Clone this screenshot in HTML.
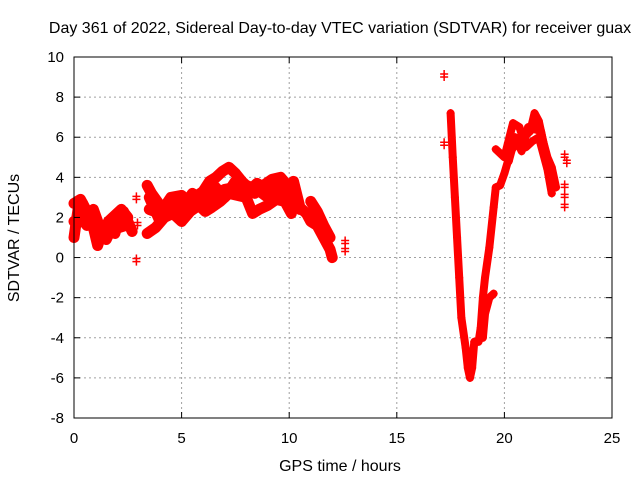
<!DOCTYPE html>
<html><head><meta charset="utf-8"><style>
body{margin:0;background:#fff}
svg{display:block;font-family:"Liberation Sans",sans-serif}
</style></head><body>
<svg id="chart" width="640" height="480" xmlns="http://www.w3.org/2000/svg">
<rect width="640" height="480" fill="#fff"/>
<text x="340" y="33" font-size="16" text-anchor="middle">Day 361 of 2022, Sidereal Day-to-day VTEC variation (SDTVAR) for receiver guax</text>
<text x="340" y="471" font-size="16" text-anchor="middle">GPS time / hours</text>
<text transform="translate(19,238) rotate(-90)" font-size="16" text-anchor="middle">SDTVAR / TECUs</text>
<g id="grid"></g>
<g id="marks"></g>
<g id="axes"></g>
</svg>
<script>
const xTicks=[0,5,10,15,20,25];
const yTicks=[-8,-6,-4,-2,0,2,4,6,8,10];
const trackEarlyLow=[[0,1.0],[0.2,2.5],[0.4,2.7],[0.6,2.2],[0.9,1.5],[1.1,0.6],[1.3,1.3],[1.6,1.5],[1.9,1.2],[2.1,2.0],[2.3,2.3],[2.5,1.8],[2.7,1.3]];
const trackEarlyHigh=[[0,2.7],[0.3,2.9],[0.5,2.5],[0.8,2.0],[1.0,1.7],[1.3,1.0],[1.6,1.8],[1.9,2.1],[2.2,2.4],[2.5,2.0]];
const trackEarlyFill=[[0,1.8],[0.3,2.0],[0.6,1.6],[0.9,2.4],[1.2,1.5],[1.5,0.9],[1.8,1.6],[2.1,1.5],[2.4,1.6]];
const trackMidUpper=[[3.4,3.6],[3.6,3.2],[4.0,2.6],[4.4,2.4],[4.8,2.5],[5.2,2.8],[5.6,3.0],[6.0,3.3],[6.3,3.8],[6.6,4.0],[6.9,4.3],[7.2,4.5],[7.5,4.2],[7.8,3.8],[8.1,3.5],[8.4,3.2],[8.8,3.6],[9.2,3.9],[9.6,4.0],[10.0,3.5],[10.2,3.0],[10.5,2.4]];
const trackMidLower=[[3.4,1.2],[3.8,1.5],[4.2,2.0],[4.6,2.2],[5.0,1.8],[5.4,2.3],[5.8,2.6],[6.1,2.3],[6.4,2.5],[6.8,2.8],[7.2,3.2],[7.6,3.1],[8.0,3.0],[8.3,2.2],[8.6,2.4],[9.0,2.6],[9.4,2.9],[9.8,2.8],[10.1,2.2]];
const trackMidCenter=[[3.5,2.4],[4.0,2.2],[4.5,3.0],[5.0,3.1],[5.5,2.6],[6.0,2.5],[6.5,3.1],[7.0,3.4],[7.5,3.5],[8.0,3.6],[8.5,3.4],[9.0,3.0],[9.5,3.3],[10.0,3.0]];
const trackMidFill=[[3.5,3.0],[4.0,1.8],[4.5,2.7],[5.0,2.4],[5.5,3.2],[6.0,2.9],[6.5,3.6],[7.0,3.0],[7.5,3.8],[8.0,3.2],[8.5,3.7],[9.0,3.4],[9.5,3.6]];
const trackDescA=[[10.2,3.8],[10.5,2.5],[10.8,2.2],[11.0,1.8],[11.3,1.6],[11.6,1.0],[11.9,0.4],[12.0,0.0]];
const trackDescB=[[11.0,2.8],[11.3,2.3],[11.6,1.6],[11.9,1.0]];
const trackLateMain=[[17.5,7.2],[17.6,5.0],[17.7,3.0],[17.8,1.0],[17.9,-1.0],[18.0,-3.0],[18.2,-4.5],[18.3,-5.5],[18.4,-6.0],[18.5,-5.5],[18.6,-4.2],[18.8,-4.2],[18.9,-3.5],[19.0,-2.0],[19.1,-1.0],[19.3,0.5],[19.5,2.5],[19.6,3.5],[19.8,3.6],[20.0,4.2],[20.3,5.3],[20.6,5.8],[20.9,6.0],[21.2,6.3],[21.4,7.2],[21.6,6.8],[21.8,5.8],[22.0,5.0],[22.2,4.5],[22.4,3.5]];
const trackLateSecond=[[19.0,-4.0],[19.1,-2.8],[19.3,-2.0],[19.5,-1.8]];
const trackLateThird=[[19.6,5.4],[20.0,5.0],[20.4,6.7],[20.7,6.5],[21.0,5.5],[21.3,5.8],[21.6,6.0],[22.0,4.4],[22.2,3.2]];
const trackLateFill=[[20.2,4.8],[20.5,6.0],[20.8,5.3],[21.1,6.5],[21.4,6.4],[21.7,6.3],[21.9,5.3],[22.1,4.0]];
const clusterPoints=[[2.9,-0.2],[2.9,2.9],[2.95,1.6],[12.6,0.7],[12.6,0.3],[17.2,9.0],[17.2,5.6],[22.8,5.0],[22.9,4.7],[22.8,3.5],[22.8,3.0],[22.8,2.5]];
const thickTracks=[trackEarlyLow,trackEarlyHigh,trackEarlyFill,trackMidUpper,trackMidLower,trackMidCenter,trackMidFill,trackDescA,trackDescB];
const thinTracks=[trackLateMain,trackLateSecond,trackLateThird,trackLateFill];

const X0=74,X1=612,Y0=418,Y1=57;
const sx=v=>X0+(v-0)/(25-0)*(X1-X0);
const sy=v=>Y0-(v-(-8))/(10-(-8))*(Y0-Y1);
const NS="http://www.w3.org/2000/svg";
const grid=document.getElementById('grid'),marks=document.getElementById('marks'),axes=document.getElementById('axes');
function mk(tag,attrs,parent){const e=document.createElementNS(NS,tag);for(const k in attrs)e.setAttribute(k,attrs[k]);parent.appendChild(e);return e;}
xTicks.forEach(t=>{
  const x=sx(t);
  if(t>0&&t<25){const g=mk('line',{x1:x,x2:x,y1:Y1,y2:Y0,stroke:'#a0a0a0','stroke-dasharray':'2,3'},grid);
  
  }
  mk('line',{x1:x,x2:x,y1:Y0,y2:Y0-6,stroke:'#000'},axes);
  mk('line',{x1:x,x2:x,y1:Y1,y2:Y1+6,stroke:'#000'},axes);
  const l=mk('text',{x:x,y:Y0+25,'font-size':15,'text-anchor':'middle'},axes);l.textContent=t;
  
  
});
yTicks.forEach(t=>{
  const y=sy(t);
  if(t>-8&&t<10){const g=mk('line',{x1:X0,x2:X1,y1:y,y2:y,stroke:'#a0a0a0','stroke-dasharray':'2,3'},grid);
  
  }
  mk('line',{x1:X0,x2:X0+6,y1:y,y2:y,stroke:'#000'},axes);
  mk('line',{x1:X1,x2:X1-6,y1:y,y2:y,stroke:'#000'},axes);
  const l=mk('text',{x:X0-10,y:y+5,'font-size':15,'text-anchor':'end'},axes);l.textContent=t;
  
  
});
mk('rect',{x:X0,y:Y1,width:X1-X0,height:Y0-Y1,fill:'none',stroke:'#000'},axes);
function plus(p){
  const x=sx(p[0]),y=sy(p[1]);
  const m=mk('path',{d:`M${x-4},${y}h8M${x},${y-4}v8`,stroke:'#f00','stroke-width':1.5},marks);
  
  
}
function drawTrack(tr,w){
  const pl=mk('polyline',{points:tr.map(p=>sx(p[0])+','+sy(p[1])).join(' '),fill:'none',stroke:'#f00','stroke-width':w,'stroke-linejoin':'round','stroke-linecap':'round'},marks);
  
  
  tr.forEach(plus);
}
thickTracks.forEach(tr=>drawTrack(tr,11));
thinTracks.forEach(tr=>drawTrack(tr,8));
clusterPoints.forEach(p=>{plus(p);plus([p[0],p[1]+0.15]);});
</script>
</body></html>
